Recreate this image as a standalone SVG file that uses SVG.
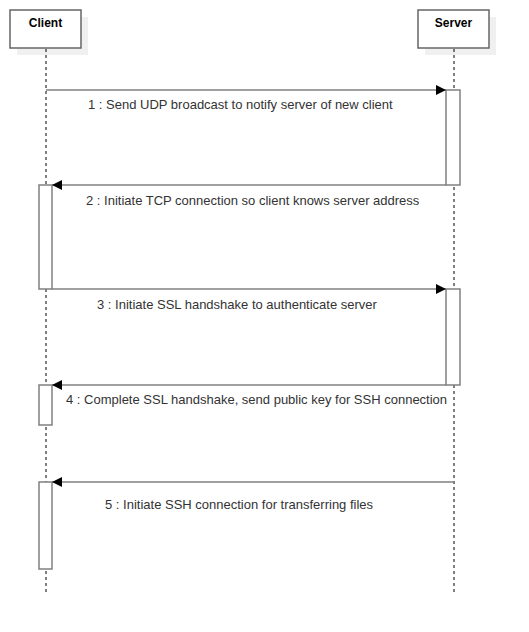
<svg xmlns="http://www.w3.org/2000/svg" width="529" height="632" viewBox="0 0 529 632">
<style>
.shadow{fill:#f0f0f0;stroke:none}
.head{fill:#fff;stroke:#666;stroke-width:1.5}
.title{font-family:"Liberation Sans",Arial,sans-serif;font-size:12px;font-weight:bold;fill:#000;text-anchor:middle}
.life{stroke:#000;stroke-width:1;stroke-dasharray:3,3;fill:none}
.act{fill:#fff;stroke:#808080;stroke-width:1.5}
.msg{stroke:#808080;stroke-width:1.5;fill:none;marker-end:url(#arr)}
.lbl{font-family:"Liberation Sans",Arial,sans-serif;font-size:13px;fill:#333}
</style>
<defs>
<marker id="arr" viewBox="0 0 10 10" refX="10" refY="5" markerWidth="10" markerHeight="10" markerUnits="userSpaceOnUse" orient="auto">
<path d="M0,0 L10,5 L0,10 z" fill="#000"/>
</marker>
</defs>
<rect width="529" height="632" fill="#fff"/>
<g id="client">
<rect class="shadow" x="17" y="17" width="71" height="38"/>
<line class="life" x1="46" y1="49" x2="46" y2="592"/>
<rect class="head" x="10" y="10" width="71" height="38"/>
<text class="title" x="45.5" y="27">Client</text>
</g>
<g id="server">
<rect class="shadow" x="425" y="17" width="71" height="38"/>
<line class="life" x1="454" y1="49" x2="454" y2="592"/>
<rect class="head" x="418" y="10" width="71" height="38"/>
<text class="title" x="453.5" y="27">Server</text>
</g>
<g id="activations">
<rect id="act-s1" class="act" x="446" y="90" width="14" height="95"/>
<rect id="act-c1" class="act" x="39" y="185" width="13" height="104"/>
<rect id="act-s2" class="act" x="446" y="289" width="14" height="96"/>
<rect id="act-c2" class="act" x="39" y="385" width="13" height="40"/>
<rect id="act-c3" class="act" x="39" y="482" width="13" height="87"/>
</g>
<g id="connectors">
<line class="msg" x1="46" y1="90" x2="446" y2="90"/>
<line class="msg" x1="446" y1="185" x2="52" y2="185"/>
<line class="msg" x1="52" y1="289" x2="446" y2="289"/>
<line class="msg" x1="446" y1="385" x2="52" y2="385"/>
<line class="msg" x1="454" y1="482" x2="52" y2="482"/>
</g>
<g id="labels">
<text class="lbl" x="88" y="109">1 : Send UDP broadcast to notify server of new client</text>
<text class="lbl" x="86" y="205">2 : Initiate TCP connection so client knows server address</text>
<text class="lbl" x="97" y="309">3 : Initiate SSL handshake to authenticate server</text>
<text class="lbl" x="66" y="404">4 : Complete SSL handshake, send public key for SSH connection</text>
<text class="lbl" x="105" y="509">5 : Initiate SSH connection for transferring files</text>
</g>
</svg>
